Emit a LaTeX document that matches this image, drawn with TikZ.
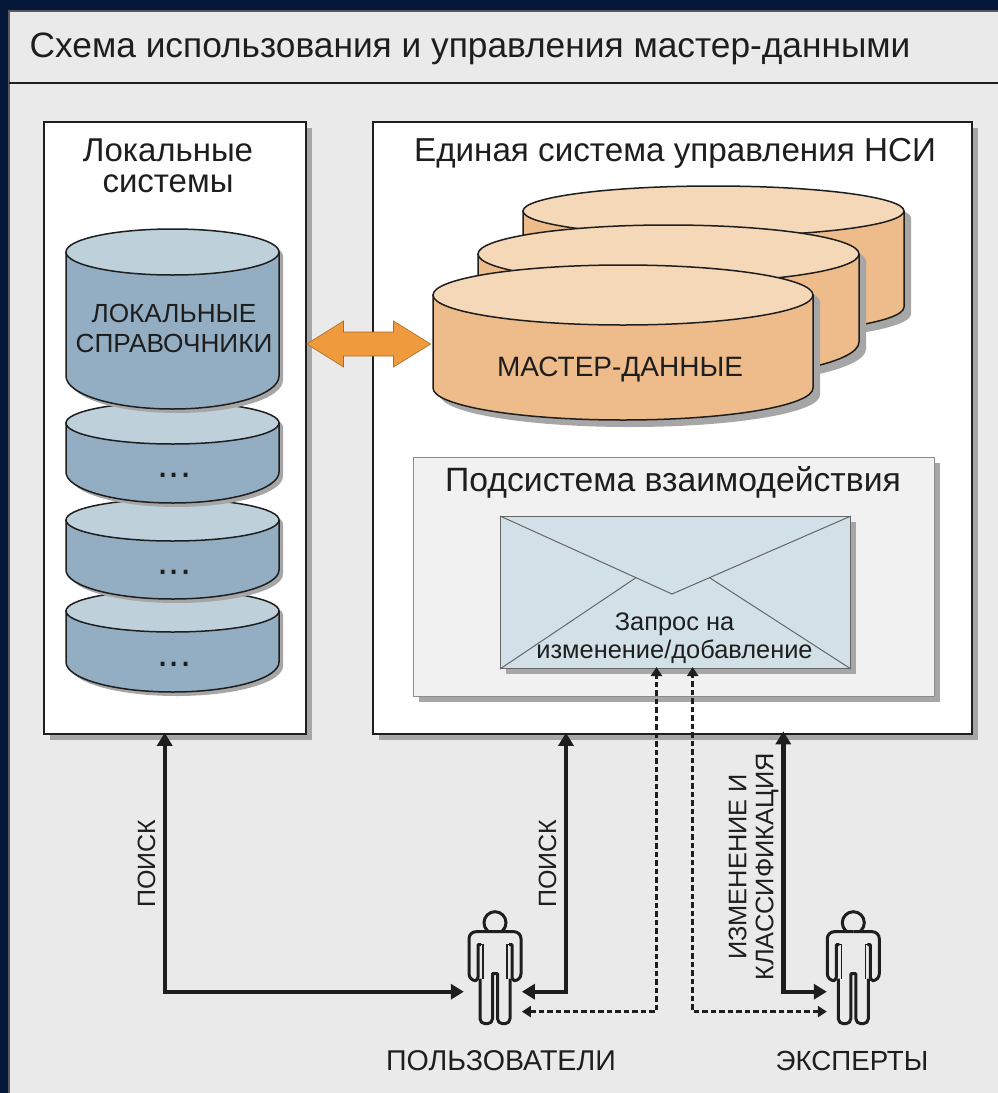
\documentclass[tikz,border=0pt]{standalone}
\usepackage{fontspec}
\setmainfont{Liberation Sans}
\usetikzlibrary{arrows.meta,calc}
\definecolor{navy}{HTML}{06183A}
\definecolor{panel}{HTML}{EAEAEA}
\definecolor{inner}{HTML}{F1F1F1}
\definecolor{shadowgray}{HTML}{A6A6A6}
\definecolor{ink}{HTML}{1E1E1E}
\definecolor{bluebody}{HTML}{93AEC2}
\definecolor{bluetop}{HTML}{BED1DB}
\definecolor{orgbody}{HTML}{EEBC8B}
\definecolor{orgtop}{HTML}{F5D8B7}
\definecolor{envfill}{HTML}{D2E1E8}
\definecolor{arrfill}{HTML}{EF9A3D}
\newcommand{\fs}[2]{\fontsize{#1}{#2}\selectfont}
% cx, y of top ellipse, y of side end, rx, ry top, ry bottom, body, top, shadow offset
\newcommand{\drum}[9]{%
  \pgfmathsetmacro{\kx}{0.5523*#4}%
  \pgfmathsetmacro{\kb}{0.5523*#6}%
  \pgfmathsetmacro{\xl}{#1-#4}\pgfmathsetmacro{\xr}{#1+#4}%
  \pgfmathsetmacro{\xa}{#1-\kx}\pgfmathsetmacro{\xb}{#1+\kx}%
  \pgfmathsetmacro{\ya}{#3+\kb}\pgfmathsetmacro{\yb}{#3+#6}%
  \def\drumpath{(\xl,#2) -- (\xl,#3) .. controls (\xl,\ya) and (\xa,\yb) .. (#1,\yb) .. controls (\xb,\yb) and (\xr,\ya) .. (\xr,#3) -- (\xr,#2) -- cycle}%
  \fill[shadowgray,shift={(#9,#9)}] \drumpath;
  \fill[shadowgray,shift={(#9,#9)}] (#1,#2) ellipse [x radius=#4,y radius=#5];
  \path[fill=#7,draw=ink,line width=1.5pt,line join=round] \drumpath;
  \path[fill=#8,draw=ink,line width=1.5pt] (#1,#2) ellipse [x radius=#4,y radius=#5];
}
\tikzset{
  lbl/.style={text=ink,inner sep=0pt,align=center},
  boxnode/.style={draw=ink,fill=white,line width=1.8pt,inner sep=0pt,anchor=north west},
  boldarrow/.style={draw=ink,line width=4.4pt,line join=miter,{Triangle[length=13pt,width=15pt]}-{Triangle[length=13pt,width=15pt]}},
  dasharrow/.style={draw=ink,line width=2.6pt,dash pattern=on 5.5pt off 3pt,{Triangle[length=9pt,width=11pt]}-{Triangle[length=9pt,width=11pt]}},
  personfig/.pic={
    \draw[ink,line width=3pt,fill=panel] (0,-9) circle [radius=11];
    \path[fill=panel] (-26,0) rectangle (26,48) (-15,48) rectangle (15,92);
    \draw[ink,line width=3pt,line join=round]
      [rounded corners=7pt] (0,0) -- (-26,0) -- (-26,49) [rounded corners=3.5pt] -- (-17,49) [sharp corners] -- (-17,13) -- (-14,13);
    \draw[ink,line width=3pt,line join=round]
      [rounded corners=7pt] (0,0) -- (26,0) -- (26,49) [rounded corners=3.5pt] -- (17,49) [sharp corners] -- (17,13) -- (14,13);
    \draw[ink,line width=1.2pt] (-17,13) -- (-12,13) -- (-12,47) (17,13) -- (12,13) -- (12,47);
    \draw[ink,line width=3pt,line join=round]
      (-15,47) [rounded corners=5pt] -- (-15,92) -- (-2.5,92) [sharp corners] -- (-2.5,42) -- (2.5,42) [rounded corners=5pt] -- (2.5,92) -- (15,92) [sharp corners] -- (15,47);
  }
}
\begin{document}
\begin{tikzpicture}[x=1pt,y=-1pt]
\useasboundingbox (0,0) rectangle (998,1093);
\clip (0,0) rectangle (998,1093);
\fill[navy] (0,0) rectangle (998,1093);
\path[fill=panel,draw=black!65,line width=1.4pt] (9,11) rectangle (1010,1110);
\draw[ink,line width=1.2pt] (9,83) -- (1000,83);
\node[lbl,anchor=base west,font=\fs{35.3}{36}] (title) at (29.5,57.5) {Схема использования и управления мастер-данными};

% left and right boxes
\fill[shadowgray] (50,128) rectangle (312,740);
\fill[shadowgray] (379,128) rectangle (978,740);
\node[boxnode,minimum width=262pt,minimum height=612pt] (lsys) at (43,121) {};
\node[boxnode,minimum width=599pt,minimum height=612pt] (usys) at (372,121) {};
\node[lbl,anchor=center,font=\fs{33}{31}] (ltitle) at (168,165.5) {Локальные\\ системы};
\node[lbl,anchor=base,font=\fs{33.2}{36}] (rtitle) at (675,161) {Единая система управления НСИ};

% blue stack
\drum{172.5}{611}{662}{106.5}{21}{30}{bluebody}{bluetop}{4}
\drum{172.5}{520}{570}{106.5}{21}{29}{bluebody}{bluetop}{4}
\drum{172.5}{423}{472}{106.5}{21}{31}{bluebody}{bluetop}{4}
\drum{172.5}{252}{376}{106.5}{23}{33}{bluebody}{bluetop}{4}
\node[lbl,anchor=center,font=\fs{26.2}{30}] (lref) at (174,328) {ЛОКАЛЬНЫЕ\\ СПРАВОЧНИКИ};
\node[lbl,anchor=base,font=\fs{40}{40}] (d1) at (174.5,477) {...};
\node[lbl,anchor=base,font=\fs{40}{40}] (d2) at (174.5,574) {...};
\node[lbl,anchor=base,font=\fs{40}{40}] (d3) at (174.5,666) {...};

% orange stack
\drum{713.5}{211}{307}{190.5}{25}{28}{orgbody}{orgtop}{7}
\drum{668.5}{254}{342}{190.5}{29}{38}{orgbody}{orgtop}{7}
\drum{623}{295}{388}{190}{30}{32}{orgbody}{orgtop}{7}
\node[lbl,anchor=base,font=\fs{28}{30}] (master) at (620,376) {МАСТЕР-ДАННЫЕ};

% exchange arrow
\path[fill=arrfill,draw=arrfill!70!black,line width=.6pt,line join=miter]
  (306.7,344) -- (343.5,321) -- (343.5,332) -- (393.5,332) -- (393.5,321) -- (430.7,344)
  -- (393.5,367) -- (393.5,356) -- (343.5,356) -- (343.5,367) -- cycle;

% interaction subsystem
\fill[shadowgray] (419,463) rectangle (940,702);
\node[draw=black!45,fill=inner,line width=1pt,inner sep=0pt,anchor=north west,minimum width=521pt,minimum height=239pt] (sub) at (413,457) {};
\node[lbl,anchor=base,font=\fs{33.7}{36}] (subt) at (673,491) {Подсистема взаимодействия};

% envelope
\fill[shadowgray] (506,522) rectangle (856,674);
\node[draw=black!60,fill=envfill,line width=1pt,inner sep=0pt,anchor=north west,minimum width=350pt,minimum height=152pt] (env) at (500,516) {};
\coordinate (flap) at (672,594);
\draw[black!60,line width=1pt] (env.north west) -- (flap) -- (env.north east);
\draw[black!60,line width=1pt] (env.south west) -- (635.5,578);
\draw[black!60,line width=1pt] (env.south east) -- (710,578);
\node[lbl,anchor=center,font=\fs{25.4}{28}] (req) at (674.5,638) {Запрос на\\ изменение/добавление};

% people
\path (495,931.7) pic {personfig};
\path (853.3,931.7) pic {personfig};
\node[inner sep=0pt,minimum width=57.7pt,minimum height=114pt] (users) at (492.85,967) {};
\node[inner sep=0pt,minimum width=53pt,minimum height=114pt] (experts) at (853.5,967) {};
\node[lbl,anchor=base,font=\fs{28.6}{30}] (ulab) at (501,1070) {ПОЛЬЗОВАТЕЛИ};
\node[lbl,anchor=base,font=\fs{27.7}{30}] (elab) at (852,1070) {ЭКСПЕРТЫ};

% connectors
\draw[boldarrow,shorten >=-2pt] (users.west |- 0,991.7) -| (lsys.south -| 164.7,0);
\draw[boldarrow,shorten >=-2pt] (users.east |- 0,991.7) -| (usys.south -| 566,0);
\draw[boldarrow,shorten >=-3.5pt] (experts.west |- 0,991.7) -| (usys.south -| 783.3,0);
\draw[dasharrow,shorten >=-2pt] (users.east |- 0,1011.6) -| (env.south -| 656.5,0);
\draw[dasharrow,shorten >=-2pt] (experts.west |- 0,1011.6) -| (env.south -| 692.7,0);

% rotated labels
\node[lbl,anchor=center,rotate=90,font=\fs{25}{26}] (s1) at (146.5,863.5) {ПОИСК};
\node[lbl,anchor=center,rotate=90,font=\fs{25}{26}] (s2) at (547.5,863.5) {ПОИСК};
\node[lbl,anchor=center,rotate=90,font=\fs{25.4}{27}] (chg) at (753.5,867) {ИЗМЕНЕНИЕ И\\ КЛАССИФИКАЦИЯ};
\end{tikzpicture}
\end{document}
